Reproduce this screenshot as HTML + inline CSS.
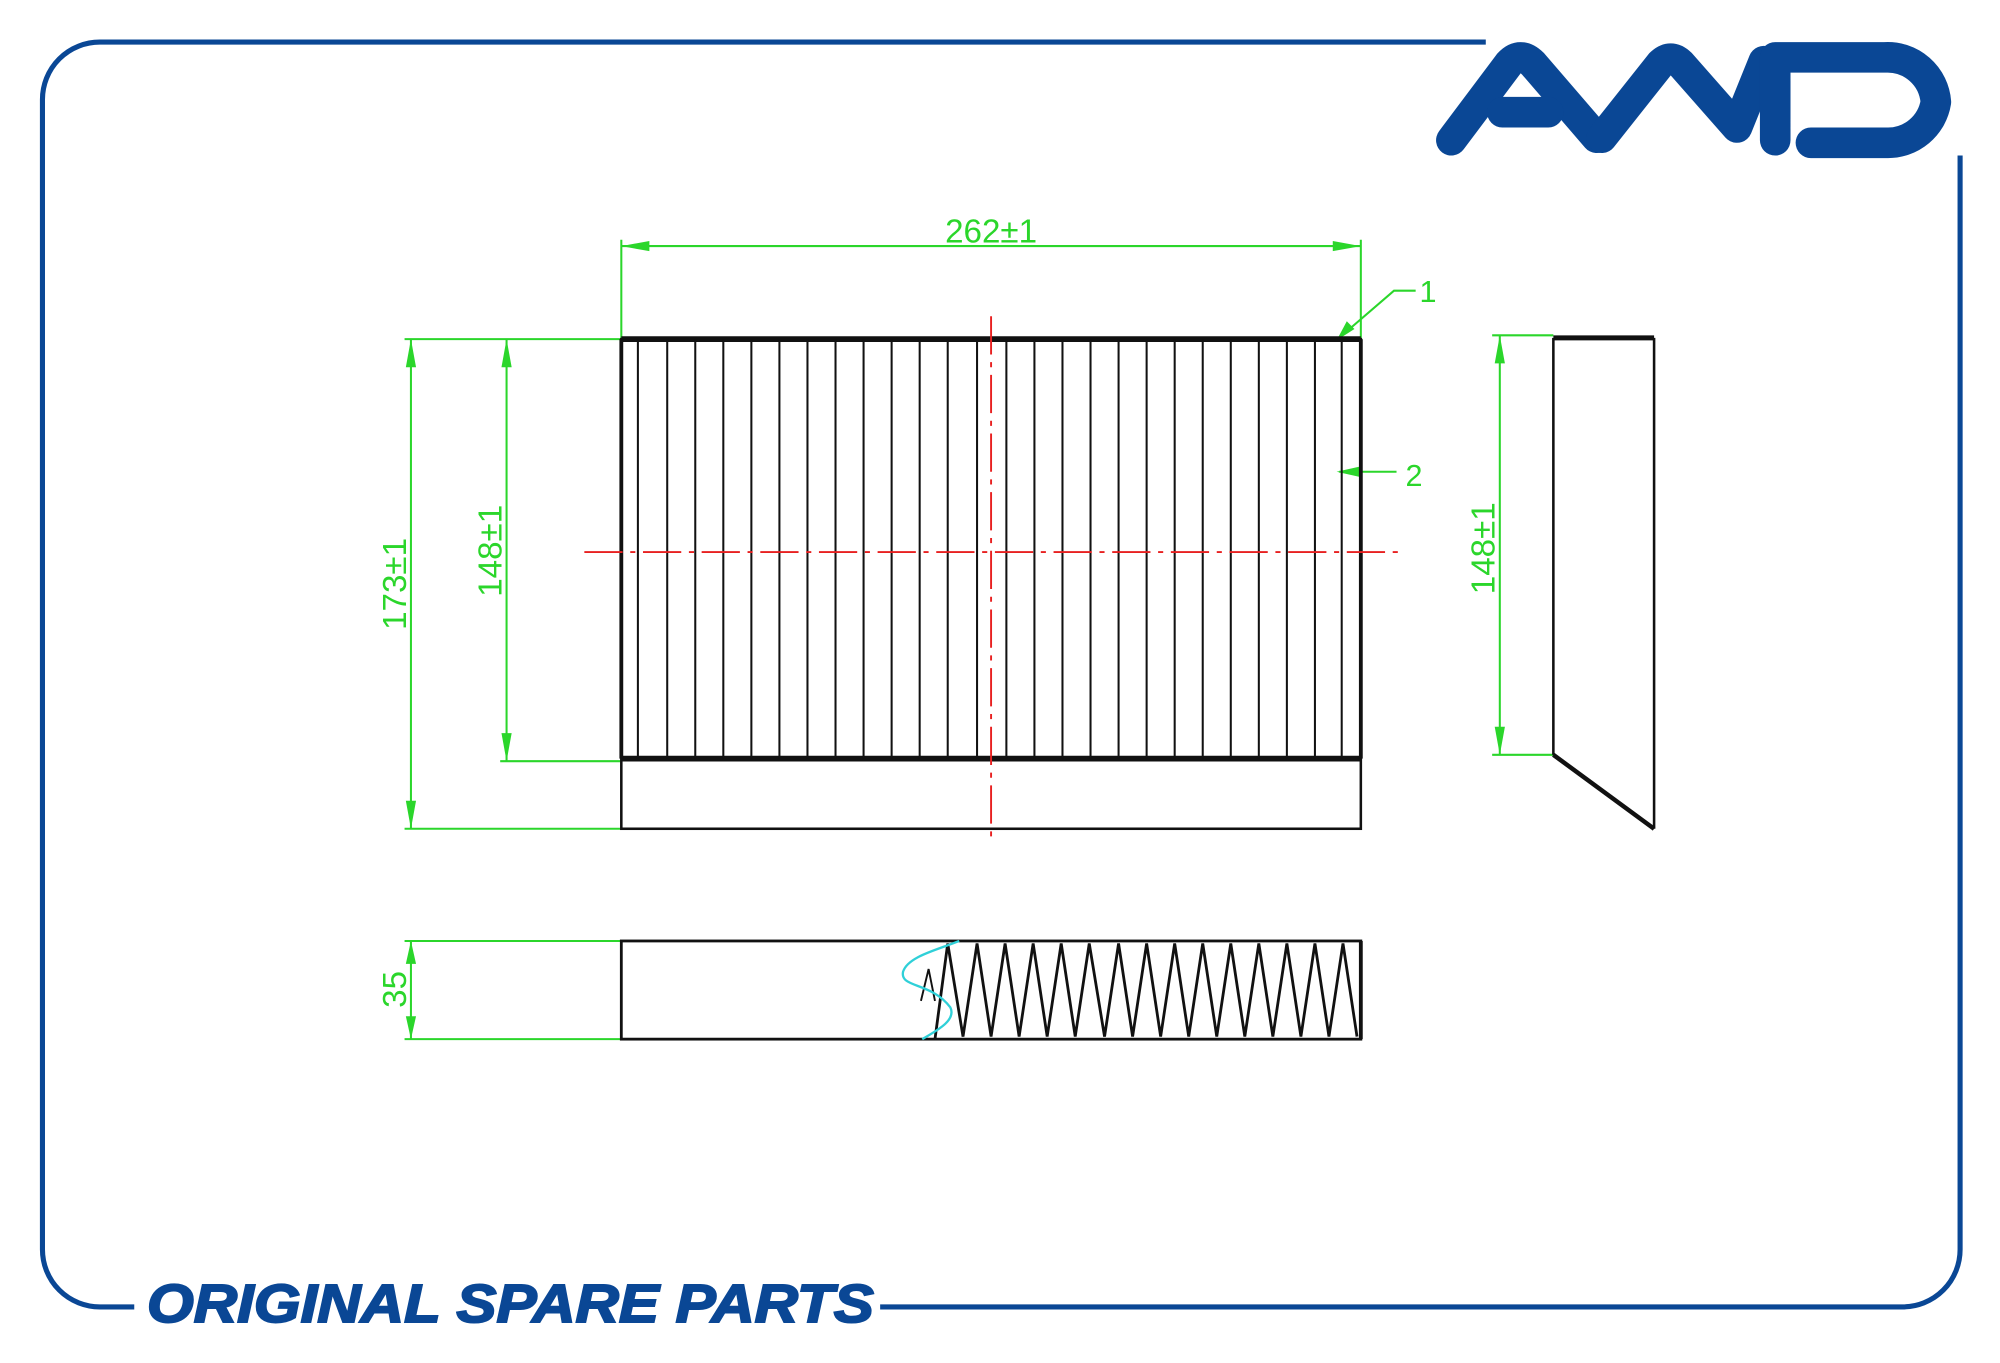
<!DOCTYPE html>
<html><head><meta charset="utf-8"><style>
html,body{margin:0;padding:0;background:#fff;}
svg{display:block;}
</style></head><body>
<svg width="2000" height="1363" viewBox="0 0 1568 1069" xmlns="http://www.w3.org/2000/svg" font-family="Liberation Sans, sans-serif">
<rect width="1568" height="1069" fill="#fff"/>
<!-- frame -->
<path d="M1165 33 L78 33 A45 45 0 0 0 33 78 L33 980 A45 45 0 0 0 78 1025 L105 1025" fill="none" stroke="#0a4795" stroke-width="4"/>
<path d="M690 1025 L1492 1025 A45 45 0 0 0 1537 980 L1537 122" fill="none" stroke="#0a4795" stroke-width="4"/>
<text x="115" y="1037" font-size="42" font-weight="bold" font-style="italic" fill="#0a4795" stroke="#0a4795" stroke-width="1.5" textLength="570" lengthAdjust="spacingAndGlyphs" font-family="Liberation Sans Narrow, Liberation Sans, sans-serif">ORIGINAL SPARE PARTS</text>
<!-- logo -->
<g fill="none" stroke="#0a4795" stroke-width="24" stroke-linecap="round" stroke-linejoin="round">
<path d="M1138 110 L1183 50 Q1192 40 1202 50 L1252 108"/>
<path d="M1178 88 L1214 88"/>
<path d="M1256 108 L1302 50 Q1310 42 1318 50 L1362 100 L1383 48"/>
<path d="M1392 110 L1392 45 L1478 45 A38 38 0 0 1 1518 80 A38 38 0 0 1 1480 112 L1420 112"/>
</g>
<!-- green dimensions -->
<g stroke="#2bd62b" stroke-width="1.6" fill="none">
<path d="M487 188 V266 M1067 188 V266 M487 193 H1067"/>
<path d="M317 266 H487 M317 650 H487 M322 266 V650"/>
<path d="M392 597 H487 M397 266 V597"/>
<path d="M1050 265 L1093 228 H1110"/>
<path d="M1050 370 H1095"/>
<path d="M1170 263 H1218 M1170 592 H1218 M1176 263 V592"/>
<path d="M317 738 H487 M317 815 H487 M322 738 V815"/>
</g>
<g fill="#2bd62b">
<path d="M487 193 l22 -4 v8z M1067 193 l-22 -4 v8z"/>
<path d="M322 266 l-4 22 h8z M322 650 l-4 -22 h8z"/>
<path d="M397 266 l-4 22 h8z M397 597 l-4 -22 h8z"/>
<path d="M1176 263 l-4 22 h8z M1176 592 l-4 -22 h8z"/>
<path d="M322 738 l-4 18 h8z M322 815 l-4 -18 h8z"/>
<path d="M1048 267 l8 -15 l6 6z"/>
<path d="M1048 370 l18 -4 v8z"/>
</g>
<g fill="#2bd62b" font-size="26">
<text x="777" y="190" text-anchor="middle">262±1</text>
<text x="1113" y="237" font-size="24">1</text>
<text x="1102" y="381" font-size="24">2</text>
<text transform="translate(318,458) rotate(-90)" text-anchor="middle">173±1</text>
<text transform="translate(393,432) rotate(-90)" text-anchor="middle">148±1</text>
<text transform="translate(1172,430) rotate(-90)" text-anchor="middle">148±1</text>
<text transform="translate(318,776) rotate(-90)" text-anchor="middle">35</text>
</g>
<!-- main view -->
<g stroke="#111" fill="none">
<rect x="487" y="266" width="580" height="384" stroke-width="2"/>
<path d="M487 266 H1067 M487 595 H1067" stroke-width="4.5"/>
<path d="M487 266 V595 M1067 266 V595" stroke-width="3"/>
<path stroke-width="1.6" d="M500 266V595M523 266V595M545 266V595M567 266V595M589 266V595M611 266V595M633 266V595M655 266V595M677 266V595M699 266V595M721 266V595M743 266V595M766 266V595M789 266V595M811 266V595M833 266V595M855 266V595M877 266V595M899 266V595M921 266V595M943 266V595M965 266V595M987 266V595M1009 266V595M1031 266V595M1052 266V595"/>
</g>
<g stroke="#e82020" stroke-width="1.5" stroke-dasharray="30 6 4 6">
<path d="M777 248 V662"/>
<path d="M458 433 H1100"/>
</g>
<!-- side view -->
<g stroke="#111" fill="none">
<path d="M1218 265 H1297" stroke-width="4"/>
<path d="M1218 265 V592 M1297 265 V650" stroke-width="2"/>
<path d="M1218 592 L1297 650" stroke-width="3.5"/>
</g>
<!-- bottom view -->
<g stroke="#111" fill="none">
<rect x="487" y="738" width="580" height="77" stroke-width="2.2"/>
<path d="M1067 738 V815" stroke-width="3"/>
<path stroke-width="2.2" d="M733 815 L743 740 L755 813 L766 740 L777 813 L788 740 L799 813 L810 740 L821 813 L832 740 L843 813 L854 740 L866 813 L877 740 L888 813 L899 740 L910 813 L921 740 L932 813 L943 740 L954 813 L965 740 L976 813 L987 740 L998 813 L1009 740 L1020 813 L1031 740 L1042 813 L1053 740 L1064 813"/>
<path stroke-width="1.5" d="M722 785 L728 760 L733 785"/>
</g>
<path d="M752 738 C735 745 712 750 708 762 C705 775 730 770 745 790 C750 800 735 808 723 815" fill="none" stroke="#2fd0d8" stroke-width="1.8"/>
</svg>
</body></html>
